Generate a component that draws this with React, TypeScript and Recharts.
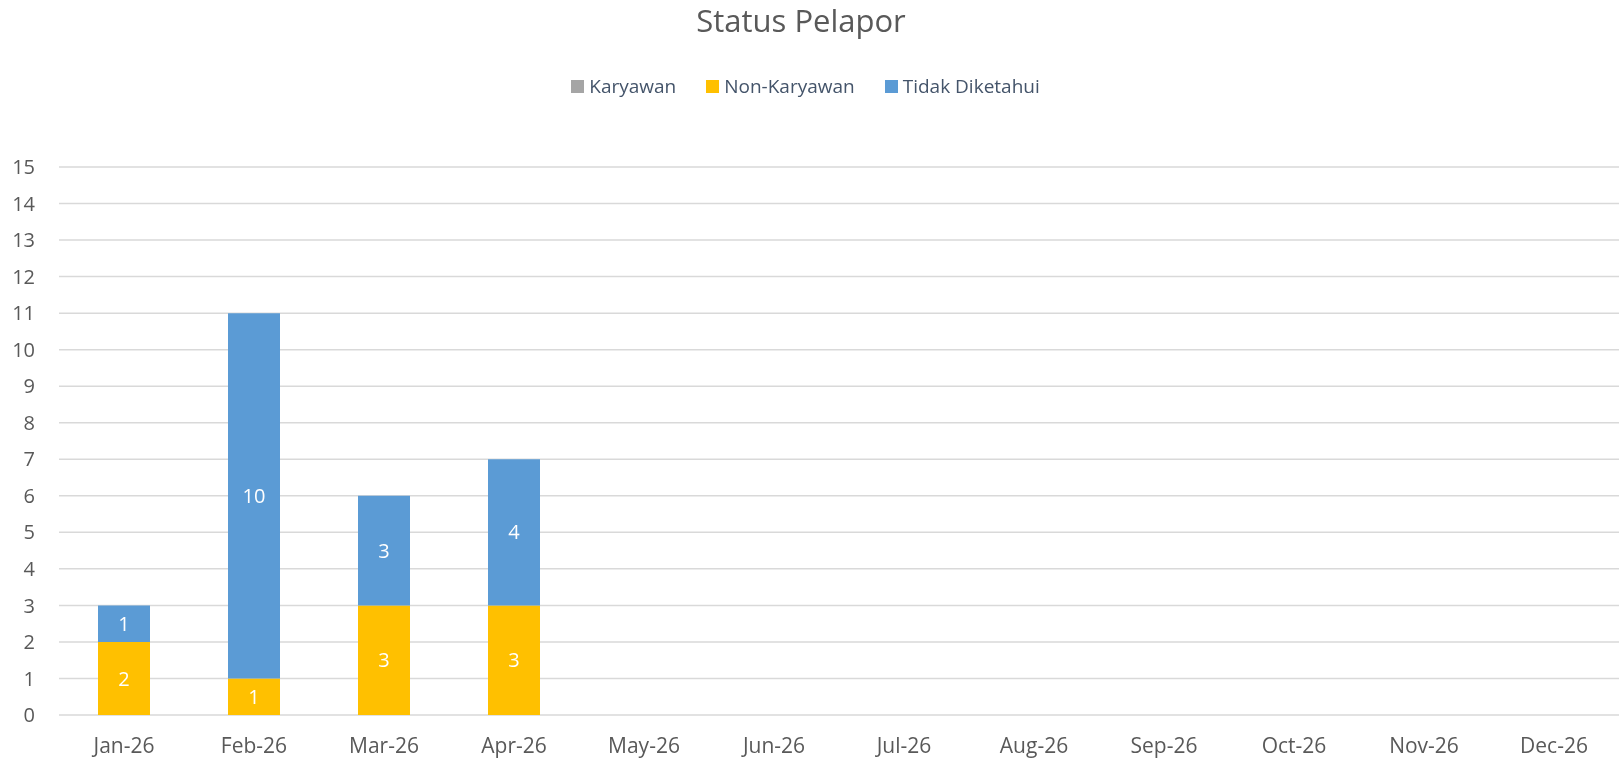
import { BarChart, Bar, XAxis, YAxis, CartesianGrid, LabelList } from 'recharts';

const months = ['Jan-26', 'Feb-26', 'Mar-26', 'Apr-26', 'May-26', 'Jun-26', 'Jul-26', 'Aug-26', 'Sep-26', 'Oct-26', 'Nov-26', 'Dec-26'];
const karyawan = [0, 0, 0, 0, null, null, null, null, null, null, null, null];
const nonKaryawan = [2, 1, 3, 3, null, null, null, null, null, null, null, null];
const tidakDiketahui = [1, 10, 3, 4, null, null, null, null, null, null, null, null];
const yTicks = [0, 1, 2, 3, 4, 5, 6, 7, 8, 9, 10, 11, 12, 13, 14, 15];

const seriesInfo = [
  { key: 'karyawan', name: 'Karyawan', color: '#A5A5A5' },
  { key: 'nonKaryawan', name: 'Non-Karyawan', color: '#FFC000' },
  { key: 'tidakDiketahui', name: 'Tidak Diketahui', color: '#5B9BD5' },
];

const data = months.map((m, i) => ({
  month: m,
  karyawan: karyawan[i],
  nonKaryawan: nonKaryawan[i],
  tidakDiketahui: tidakDiketahui[i],
}));

const FONT = '"Open Sans", "Noto Sans", sans-serif';

const hideZero = (v: any) => (v ? v : '');

const App = () => {
  return (
    <div style={{ position: 'fixed', left: 0, top: 0, width: 1619, height: 759, background: '#fff', fontFamily: FONT }}>
      <div
        style={{
          position: 'absolute', left: 0, top: 5, width: 1602, textAlign: 'center',
          fontSize: 31, lineHeight: 1, color: '#595959',
        }}
      >
        Status Pelapor
      </div>

      <div
        style={{
          position: 'absolute', left: 0, top: 71, width: 1611, height: 30,
          display: 'flex', justifyContent: 'center', alignItems: 'center', gap: 30,
          fontSize: 19, lineHeight: 1, color: '#44546A',
        }}
      >
        {seriesInfo.map((s) => (
          <div key={s.key} style={{ display: 'flex', alignItems: 'center', gap: 5 }}>
            <div style={{ width: 13, height: 13, background: s.color }} />
            <span>{s.name}</span>
          </div>
        ))}
      </div>

      <BarChart
        width={1619}
        height={759}
        data={data}
        margin={{ top: 167, right: 0, left: 0, bottom: 0 }}
        barSize={52}
        style={{ position: 'absolute', left: 0, top: 0 }}
      >
        <CartesianGrid vertical={false} stroke="#D9D9D9" strokeWidth={1.5} />
        <XAxis
          dataKey="month"
          height={44}
          axisLine={false}
          tickLine={false}
          tickSize={0}
          tickMargin={23}
          interval={0}
          tick={{ fill: '#595959', fontSize: 21, fontFamily: FONT }}
        />
        <YAxis
          width={59}
          domain={[0, 15]}
          ticks={yTicks}
          interval={0}
          axisLine={false}
          tickLine={false}
          tickSize={0}
          tickMargin={24}
          tick={{ fill: '#595959', fontSize: 20, fontFamily: FONT }}
        />
        {seriesInfo.map((s) => (
          <Bar key={s.key} dataKey={s.key} name={s.name} stackId="a" fill={s.color} isAnimationActive={false}>
            <LabelList
              dataKey={s.key}
              position="center"
              formatter={hideZero}
              fill="#FFFFFF"
              fontSize={20}
              fontFamily={FONT}
            />
          </Bar>
        ))}
      </BarChart>
    </div>
  );
};

export default App;
